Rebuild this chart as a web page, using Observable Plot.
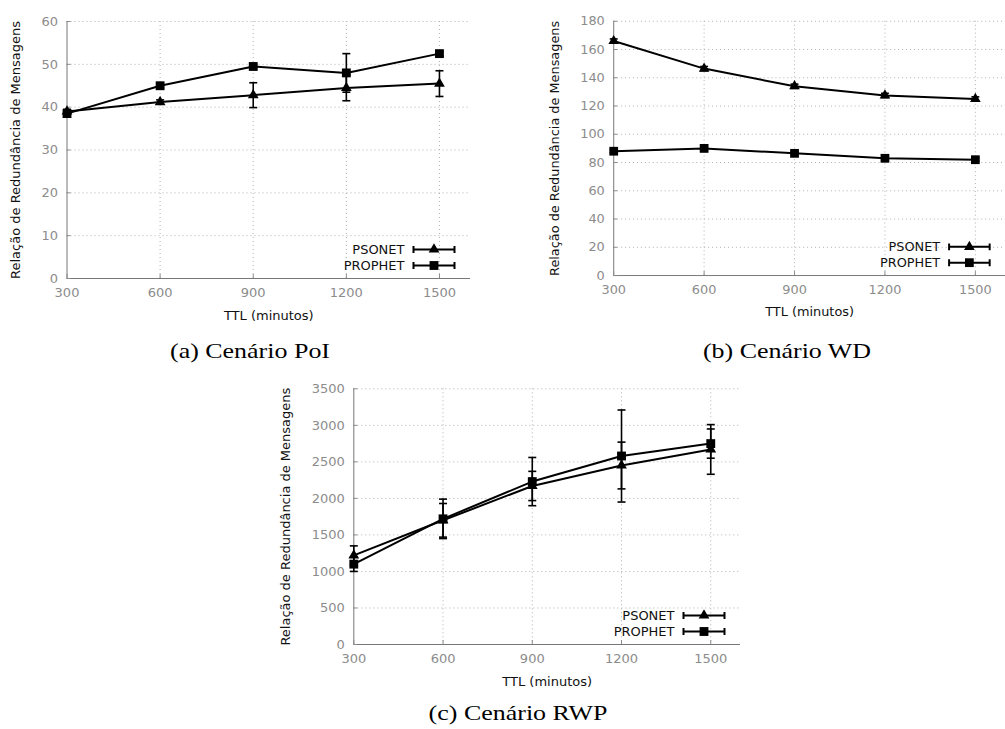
<!DOCTYPE html>
<html><head><meta charset="utf-8">
<script src="https://cdn.jsdelivr.net/npm/d3@7"></script>
<script src="https://cdn.jsdelivr.net/npm/@observablehq/plot@0.6"></script>
<style>
html,body{margin:0;padding:0;background:#fff;width:1005px;height:729px;overflow:hidden;}
#root{position:relative;width:1005px;height:729px;overflow:hidden;}
.panel{position:absolute;}
.cap{position:absolute;font-family:"Liberation Serif","Times New Roman",serif;font-size:22px;line-height:22px;color:#000;white-space:nowrap;transform:translateX(-50%) scaleX(1.18);}
</style></head><body><div id="root"></div>
<script>
// ---- data ----
const ttl = [300, 600, 900, 1200, 1500];
const seriesNames = ["PSONET", "PROPHET"];
const yLabel = "Relação de Redundância de Mensagens";
const xLabel = "TTL (minutos)";
const captions = ["(a) Cenário PoI", "(b) Cenário WD", "(c) Cenário RWP"];

// (a) PoI
const poiPsonet = [39.0, 41.2, 42.8, 44.5, 45.5];
const poiPsonetErr = [0.5, 0.5, 2.9, 3.0, 3.0];
const poiProphet = [38.5, 45.0, 49.5, 48.0, 52.5];
const poiProphetErr = [0.5, 0.5, 0.5, 4.5, 0.5];
const poiTicks = [0, 10, 20, 30, 40, 50, 60];

// (b) WD
const wdPsonet = [166, 146.5, 134, 127.5, 125];
const wdPsonetErr = [1.5, 1.5, 1.5, 1.5, 1.5];
const wdProphet = [88, 90, 86.5, 83, 82];
const wdProphetErr = [1, 1, 1, 1, 1];
const wdTicks = [0, 20, 40, 60, 80, 100, 120, 140, 160, 180];

// (c) RWP
const rwpPsonet = [1220, 1700, 2170, 2450, 2670];
const rwpPsonetErr = [130, 230, 200, 320, 340];
const rwpProphet = [1100, 1720, 2230, 2580, 2750];
const rwpProphetErr = [100, 270, 330, 630, 200];
const rwpTicks = [0, 500, 1000, 1500, 2000, 2500, 3000, 3500];

function rows(a, ae, b, be) {
  const out = [];
  ttl.forEach((t, i) => out.push({ttl: t, v: a[i], e: ae[i], series: seriesNames[0]}));
  ttl.forEach((t, i) => out.push({ttl: t, v: b[i], e: be[i], series: seriesNames[1]}));
  return out;
}

const capSymbol = {draw(ctx, size) { const w = Math.sqrt(size / Math.PI); ctx.moveTo(-w, 0); ctx.lineTo(w, 0); }};
const legendSymbol = {draw(ctx) {
  ctx.moveTo(-20.5, 0); ctx.lineTo(20.5, 0);
  ctx.moveTo(-20.5, -3.5); ctx.lineTo(-20.5, 3.5);
  ctx.moveTo(20.5, -3.5); ctx.lineTo(20.5, 3.5);
}};

const FONT = "DejaVu Sans, Verdana, sans-serif";
const fmt = d => String(d);

function panel(cfg) {
  const data = rows(...cfg.series);
  const yMax = cfg.ticks[cfg.ticks.length - 1];
  const chart = Plot.plot({
    width: cfg.width, height: cfg.height,
    marginLeft: cfg.ml, marginRight: cfg.mr, marginTop: cfg.mt, marginBottom: cfg.mb,
    style: {fontFamily: FONT, fontSize: "13px", background: "white", overflow: "visible"},
    x: {domain: [300, 1600]},
    y: {domain: [0, yMax]},
    marks: [
      Plot.gridY(cfg.ticks.slice(1), {stroke: "#b0b0b0", strokeOpacity: 1, strokeDasharray: "1,3"}),
      Plot.gridX(ttl.slice(1), {stroke: "#b0b0b0", strokeOpacity: 1, strokeDasharray: "1,3"}),
      Plot.ruleX([300], {stroke: "#777"}),
      Plot.ruleY([0], {stroke: "#777"}),
      Plot.axisY(cfg.ticks, {tickSize: -4, tickPadding: 13, tickFormat: fmt, label: null, color: "#8c8c8c", fontSize: 13}),
      Plot.axisX(ttl, {tickSize: -4, tickPadding: 13, tickFormat: fmt, label: null, color: "#8c8c8c", fontSize: 13}),
      Plot.text([xLabel], {frameAnchor: "bottom", lineAnchor: "middle", dy: 37, fontSize: 13, fill: "#111"}),
      Plot.text([yLabel], {frameAnchor: "left", textAnchor: "middle", lineAnchor: "middle", rotate: -90, dx: cfg.ylabDx, fontSize: 13, fill: "#111"}),
      Plot.ruleX(data, {x: "ttl", y1: d => d.v - d.e, y2: d => d.v + d.e, stroke: "black", strokeWidth: 1.6}),
      Plot.dot(data, {x: "ttl", y: d => d.v - d.e, symbol: capSymbol, r: 4, stroke: "black", strokeWidth: 1.6, fill: "none"}),
      Plot.dot(data, {x: "ttl", y: d => d.v + d.e, symbol: capSymbol, r: 4, stroke: "black", strokeWidth: 1.6, fill: "none"}),
      Plot.line(data, {x: "ttl", y: "v", z: "series", stroke: "black", strokeWidth: 2}),
      Plot.dot(data, {filter: d => d.series === "PSONET", x: "ttl", y: "v", symbol: "triangle", r: 4, fill: "black", stroke: "none"}),
      Plot.dot(data, {filter: d => d.series === "PROPHET", x: "ttl", y: "v", symbol: "square", r: 5, fill: "black", stroke: "none"}),
      // legend
      Plot.text([seriesNames[0]], {frameAnchor: "bottom-right", textAnchor: "end", lineAnchor: "middle", dx: -66, dy: -29, fontSize: 13, fill: "#111"}),
      Plot.text([seriesNames[1]], {frameAnchor: "bottom-right", textAnchor: "end", lineAnchor: "middle", dx: -66, dy: -13, fontSize: 13, fill: "#111"}),
      Plot.dot([0], {frameAnchor: "bottom-right", dx: -36.5, dy: -29, symbol: legendSymbol, stroke: "black", strokeWidth: 2, fill: "none"}),
      Plot.dot([0], {frameAnchor: "bottom-right", dx: -36.5, dy: -13, symbol: legendSymbol, stroke: "black", strokeWidth: 2, fill: "none"}),
      Plot.dot([0], {frameAnchor: "bottom-right", dx: -36.5, dy: -29, symbol: "triangle", r: 4, fill: "black", stroke: "none"}),
      Plot.dot([0], {frameAnchor: "bottom-right", dx: -36.5, dy: -13, symbol: "square", r: 5, fill: "black", stroke: "none"})
    ]
  });
  const div = document.createElement("div");
  div.className = "panel";
  div.style.left = cfg.left + "px";
  div.style.top = cfg.top + "px";
  div.appendChild(chart);
  document.getElementById("root").appendChild(div);
}

panel({series: [poiPsonet, poiPsonetErr, poiProphet, poiProphetErr], ticks: poiTicks,
  left: 0, top: 0, width: 480, height: 330, ml: 66.5, mr: 10, mt: 21, mb: 52, ylabDx: -51.5});
panel({series: [wdPsonet, wdPsonetErr, wdProphet, wdProphetErr], ticks: wdTicks,
  left: 540, top: 0, width: 470, height: 330, ml: 74, mr: 0, mt: 21, mb: 52, ylabDx: -59});
panel({series: [rwpPsonet, rwpPsonetErr, rwpProphet, rwpProphetErr], ticks: rwpTicks,
  left: 267, top: 367, width: 483, height: 329, ml: 86.3, mr: 10, mt: 21.3, mb: 52, ylabDx: -68.3});

const capPos = [[250, 339.6], [787, 339.6], [518, 702.3]];
captions.forEach((c, i) => {
  const d = document.createElement("div");
  d.className = "cap";
  d.textContent = c;
  d.style.left = capPos[i][0] + "px";
  d.style.top = capPos[i][1] + "px";
  document.getElementById("root").appendChild(d);
});
</script>
</body></html>
